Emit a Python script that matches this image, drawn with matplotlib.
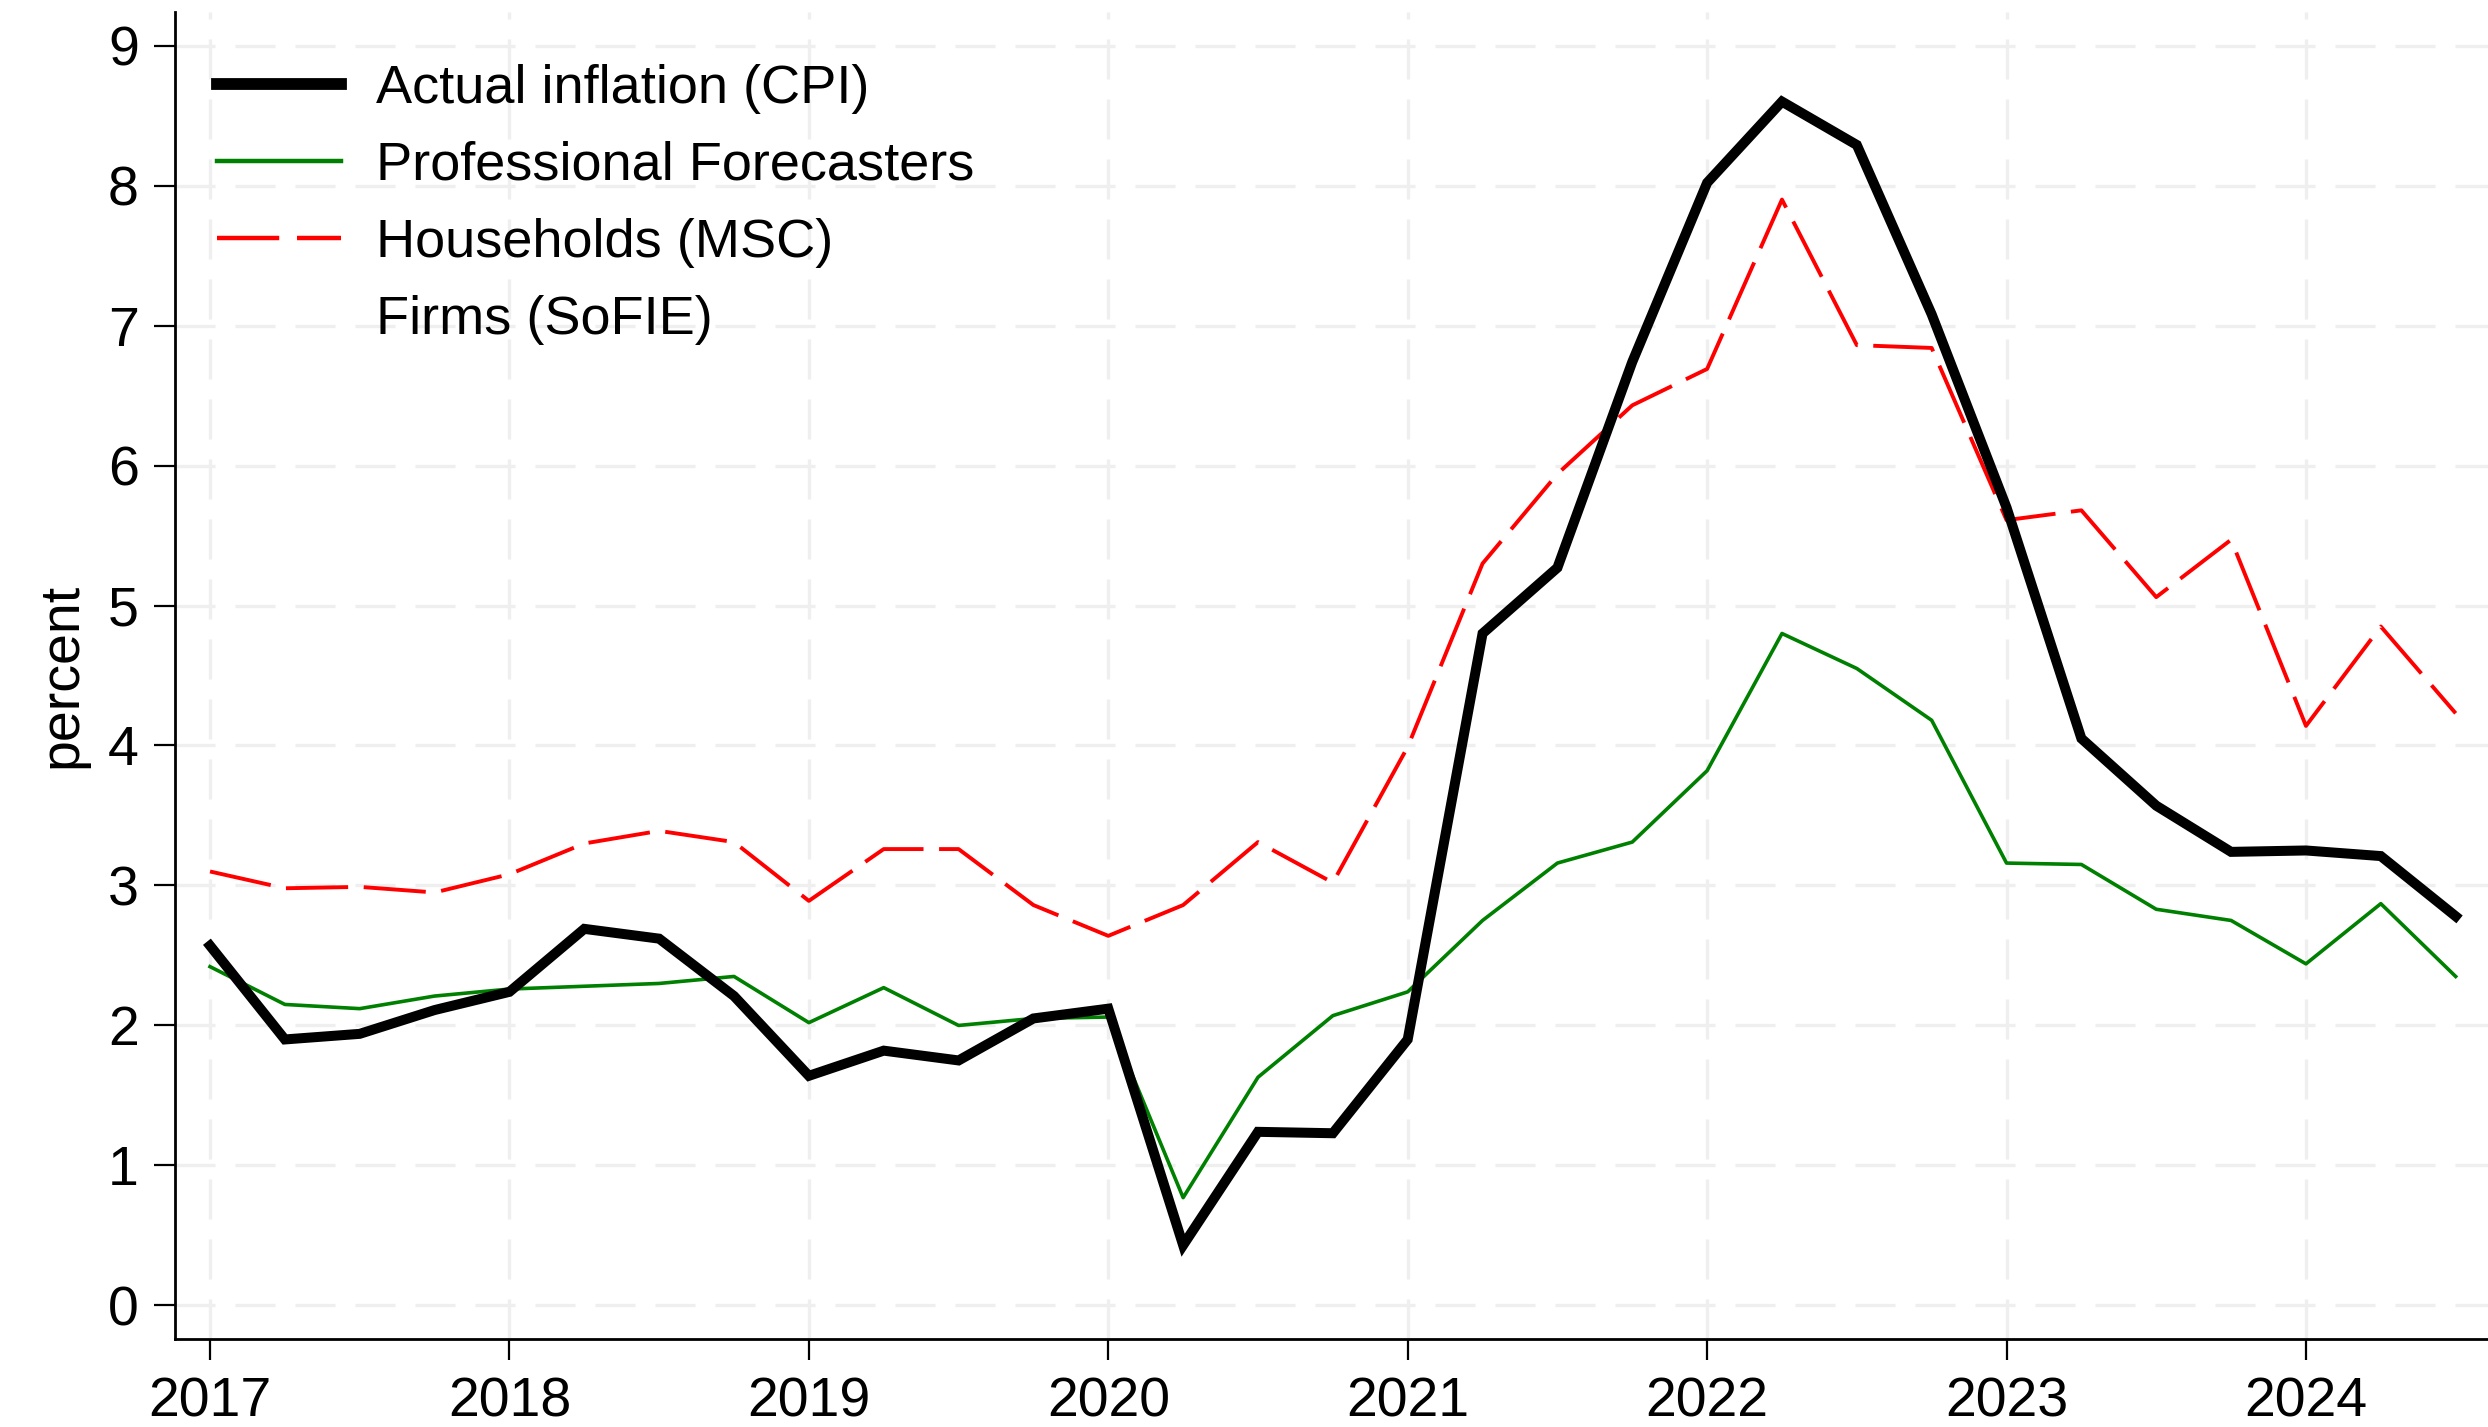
import numpy as np
import matplotlib
matplotlib.use("Agg")
import matplotlib.pyplot as plt
from matplotlib.lines import Line2D

plt.rcParams['font.family'] = ['Liberation Sans', 'DejaVu Sans']

# quarterly dates 2017Q1 .. 2024Q3
quarters = [2017.0, 2017.25, 2017.5, 2017.75,
            2018.0, 2018.25, 2018.5, 2018.75,
            2019.0, 2019.25, 2019.5, 2019.75,
            2020.0, 2020.25, 2020.5, 2020.75,
            2021.0, 2021.25, 2021.5, 2021.75,
            2022.0, 2022.25, 2022.5, 2022.75,
            2023.0, 2023.25, 2023.5, 2023.75,
            2024.0, 2024.25, 2024.5]

cpi = [2.57, 1.90, 1.94, 2.11,
       2.24, 2.69, 2.62, 2.21,
       1.64, 1.82, 1.75, 2.05,
       2.12, 0.43, 1.24, 1.23,
       1.90, 4.80, 5.27, 6.74,
       8.02, 8.60, 8.29, 7.08,
       5.70, 4.05, 3.57, 3.24,
       3.25, 3.21, 2.78]

spf = [2.42, 2.15, 2.12, 2.21,
       2.26, 2.28, 2.30, 2.35,
       2.02, 2.27, 2.00, 2.05,
       2.06, 0.77, 1.63, 2.07,
       2.24, 2.75, 3.16, 3.31,
       3.82, 4.80, 4.55, 4.18,
       3.16, 3.15, 2.83, 2.75,
       2.44, 2.87, 2.35]

msc = [3.10, 2.98, 2.99, 2.95,
       3.08, 3.30, 3.39, 3.31,
       2.89, 3.26, 3.26, 2.86,
       2.64, 2.86, 3.31, 3.02,
       3.99, 5.30, 5.94, 6.43,
       6.69, 7.90, 6.86, 6.84,
       5.61, 5.68, 5.06, 5.47,
       4.14, 4.85, 4.23]

firms = []  # no data shown for Firms (SoFIE)

year_ticks = [2017, 2018, 2019, 2020, 2021, 2022, 2023, 2024]
y_ticks = [0, 1, 2, 3, 4, 5, 6, 7, 8, 9]

fig = plt.figure(figsize=(24.88, 14.27), dpi=100)
ax = fig.add_axes([175/2488, 1 - 1339/1427, 1 - 175/2488, (1339 - 12)/1427])

ax.plot(quarters, cpi, color='black', lw=7.2, solid_joinstyle='miter',
        label='Actual inflation (CPI)', zorder=5)
ax.plot(quarters, spf, color='#008000', lw=2.6, label='Professional Forecasters', zorder=4)
ax.plot(quarters, msc, color='#ff0000', lw=2.8, dashes=(16, 4),
        label='Households (MSC)', zorder=3)
ax.plot(quarters[:len(firms)], firms, color='none', label='Firms (SoFIE)')

ax.set_xlim(2016.883, 2024.608)
ax.set_ylim(-0.24, 9.24)
ax.set_xticks(year_ticks)
ax.set_xticklabels([str(y) for y in year_ticks])
ax.set_yticks(y_ticks)

ax.grid(True, color='#efefef', lw=2.4, linestyle=(0, (12, 6)), zorder=0)
ax.set_axisbelow(True)

for s in ['top', 'right']:
    ax.spines[s].set_visible(False)
for s in ['left', 'bottom']:
    ax.spines[s].set_linewidth(2.0)

ax.tick_params(axis='both', direction='out', length=15, width=1.6,
               labelsize=40)
ax.tick_params(axis='y', pad=11)
ax.tick_params(axis='x', pad=12)

ax.set_ylabel('percent', fontsize=40, labelpad=14)

handles = [Line2D([], [], color='black', lw=8.5),
           Line2D([], [], color='#008000', lw=3.2),
           Line2D([], [], color='#ff0000', lw=3.2, dashes=(14, 4)),
           Line2D([], [], color='none')]
labels = ['Actual inflation (CPI)', 'Professional Forecasters',
          'Households (MSC)', 'Firms (SoFIE)']
ax.legend(handles, labels, loc='upper left', bbox_to_anchor=(0.018, 0.961),
          frameon=False, fontsize=39, handlelength=2.3, handletextpad=0.65,
          labelspacing=0.5, borderpad=0, borderaxespad=0)

fig.savefig('out.png', dpi=100)
